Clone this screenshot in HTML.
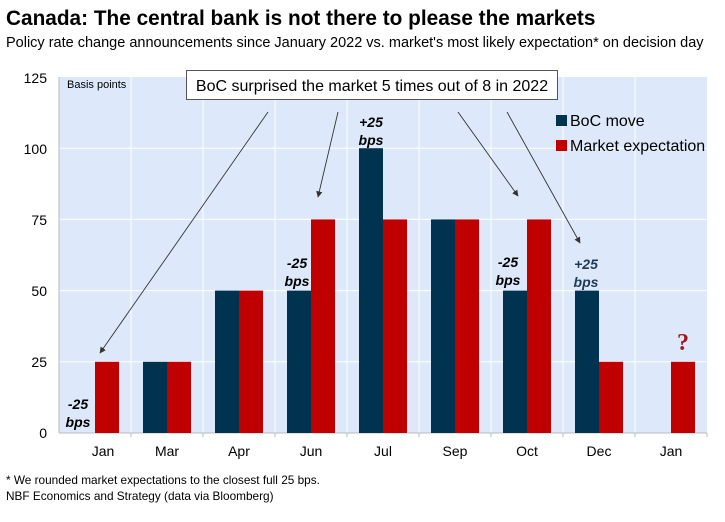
<!DOCTYPE html>
<html><head><meta charset="utf-8"><style>
body{margin:0;background:#fff;}
svg{display:block;font-family:"Liberation Sans",Arial,sans-serif;}
</style></head><body>
<svg width="725" height="522" viewBox="0 0 725 522" xmlns="http://www.w3.org/2000/svg">
<defs><marker id="ah" viewBox="0 0 10 10" refX="9" refY="5" markerWidth="7" markerHeight="7" orient="auto"><path d="M0,0 L10,5 L0,10 z" fill="#333"/></marker></defs>
<text x="6" y="25" font-size="20.8" font-weight="bold" fill="#000">Canada: The central bank is not there to please the markets</text>
<text x="6" y="47" font-size="14.5" fill="#000">Policy rate change announcements since January 2022 vs. market's most likely expectation* on decision day</text>
<rect x="59" y="77" width="648" height="356" fill="#dde9fb"/>
<g stroke="#fff" stroke-width="1">
<line x1="59" y1="148.2" x2="707" y2="148.2"/><line x1="59" y1="219.4" x2="707" y2="219.4"/><line x1="59" y1="290.6" x2="707" y2="290.6"/><line x1="59" y1="361.8" x2="707" y2="361.8"/>
<line x1="131" y1="77" x2="131" y2="433"/><line x1="203" y1="77" x2="203" y2="433"/><line x1="275" y1="77" x2="275" y2="433"/><line x1="347" y1="77" x2="347" y2="433"/><line x1="419" y1="77" x2="419" y2="433"/><line x1="491" y1="77" x2="491" y2="433"/><line x1="563" y1="77" x2="563" y2="433"/><line x1="635" y1="77" x2="635" y2="433"/>
</g>
<g stroke="#bbb"><line x1="59" y1="77" x2="59" y2="433"/><line x1="59" y1="433" x2="707" y2="433"/>
<line x1="131" y1="433" x2="131" y2="437"/><line x1="203" y1="433" x2="203" y2="437"/><line x1="275" y1="433" x2="275" y2="437"/><line x1="347" y1="433" x2="347" y2="437"/><line x1="419" y1="433" x2="419" y2="437"/><line x1="491" y1="433" x2="491" y2="437"/><line x1="563" y1="433" x2="563" y2="437"/><line x1="635" y1="433" x2="635" y2="437"/><line x1="707" y1="433" x2="707" y2="437"/></g>
<g fill="#003350">
<rect x="143" y="361.8" width="24" height="71.2"/><rect x="215" y="290.6" width="24" height="142.4"/><rect x="287" y="290.6" width="24" height="142.4"/><rect x="359" y="148.2" width="24" height="284.8"/><rect x="431" y="219.4" width="24" height="213.6"/><rect x="503" y="290.6" width="24" height="142.4"/><rect x="575" y="290.6" width="24" height="142.4"/>
</g>
<g fill="#c00000">
<rect x="95" y="361.8" width="24" height="71.2"/><rect x="167" y="361.8" width="24" height="71.2"/><rect x="239" y="290.6" width="24" height="142.4"/><rect x="311" y="219.4" width="24" height="213.6"/><rect x="383" y="219.4" width="24" height="213.6"/><rect x="455" y="219.4" width="24" height="213.6"/><rect x="527" y="219.4" width="24" height="213.6"/><rect x="599" y="361.8" width="24" height="71.2"/><rect x="671" y="361.8" width="24" height="71.2"/>
</g>
<g font-size="14" fill="#000" text-anchor="end">
<text x="47" y="83">125</text><text x="47" y="154">100</text><text x="47" y="225">75</text><text x="47" y="296">50</text><text x="47" y="367">25</text><text x="47" y="438">0</text></g>
<g font-size="14" fill="#000" text-anchor="middle">
<text x="103" y="456">Jan</text><text x="167" y="456">Mar</text><text x="239" y="456">Apr</text><text x="311" y="456">Jun</text><text x="383" y="456">Jul</text><text x="455" y="456">Sep</text><text x="527" y="456">Oct</text><text x="599" y="456">Dec</text><text x="671" y="456">Jan</text></g>
<text x="67" y="88" font-size="11" fill="#000">Basis points</text>
<g font-size="14" font-weight="bold" font-style="italic" fill="#000" text-anchor="middle">
<text x="78" y="409">-25</text><text x="78" y="427">bps</text>
<text x="297" y="268">-25</text><text x="297" y="286">bps</text>
<text x="371" y="127">+25</text><text x="371" y="145">bps</text>
<text x="508" y="267">-25</text><text x="508" y="285">bps</text>
<text x="586" y="269" fill="#1f3a55">+25</text><text x="586" y="287" fill="#1f3a55">bps</text></g>
<text x="683" y="350" font-size="24" font-weight="bold" font-family="Liberation Serif,serif" fill="#9b1c1c" text-anchor="middle">?</text>
<rect x="556" y="115" width="11" height="11" fill="#003350"/><text x="570" y="126" font-size="16">BoC move</text>
<rect x="556" y="140" width="11" height="11" fill="#c00000"/><text x="570" y="151" font-size="16">Market expectation</text>
<g stroke="#333" stroke-width="0.9" fill="none" marker-end="url(#ah)">
<line x1="268" y1="112" x2="100" y2="353"/><line x1="338" y1="112" x2="318" y2="197"/><line x1="458" y1="112" x2="518" y2="196"/><line x1="507" y1="112" x2="580" y2="243"/></g>
<rect x="186.5" y="70.5" width="371" height="29" fill="#fff" stroke="#555"/>
<text x="372" y="91" font-size="16" text-anchor="middle">BoC surprised the market 5 times out of 8 in 2022</text>
<text x="6" y="484" font-size="11.8">* We rounded market expectations to the closest full 25 bps.</text>
<text x="6" y="500" font-size="11.8">NBF Economics and Strategy (data via Bloomberg)</text>
</svg>
</body></html>
